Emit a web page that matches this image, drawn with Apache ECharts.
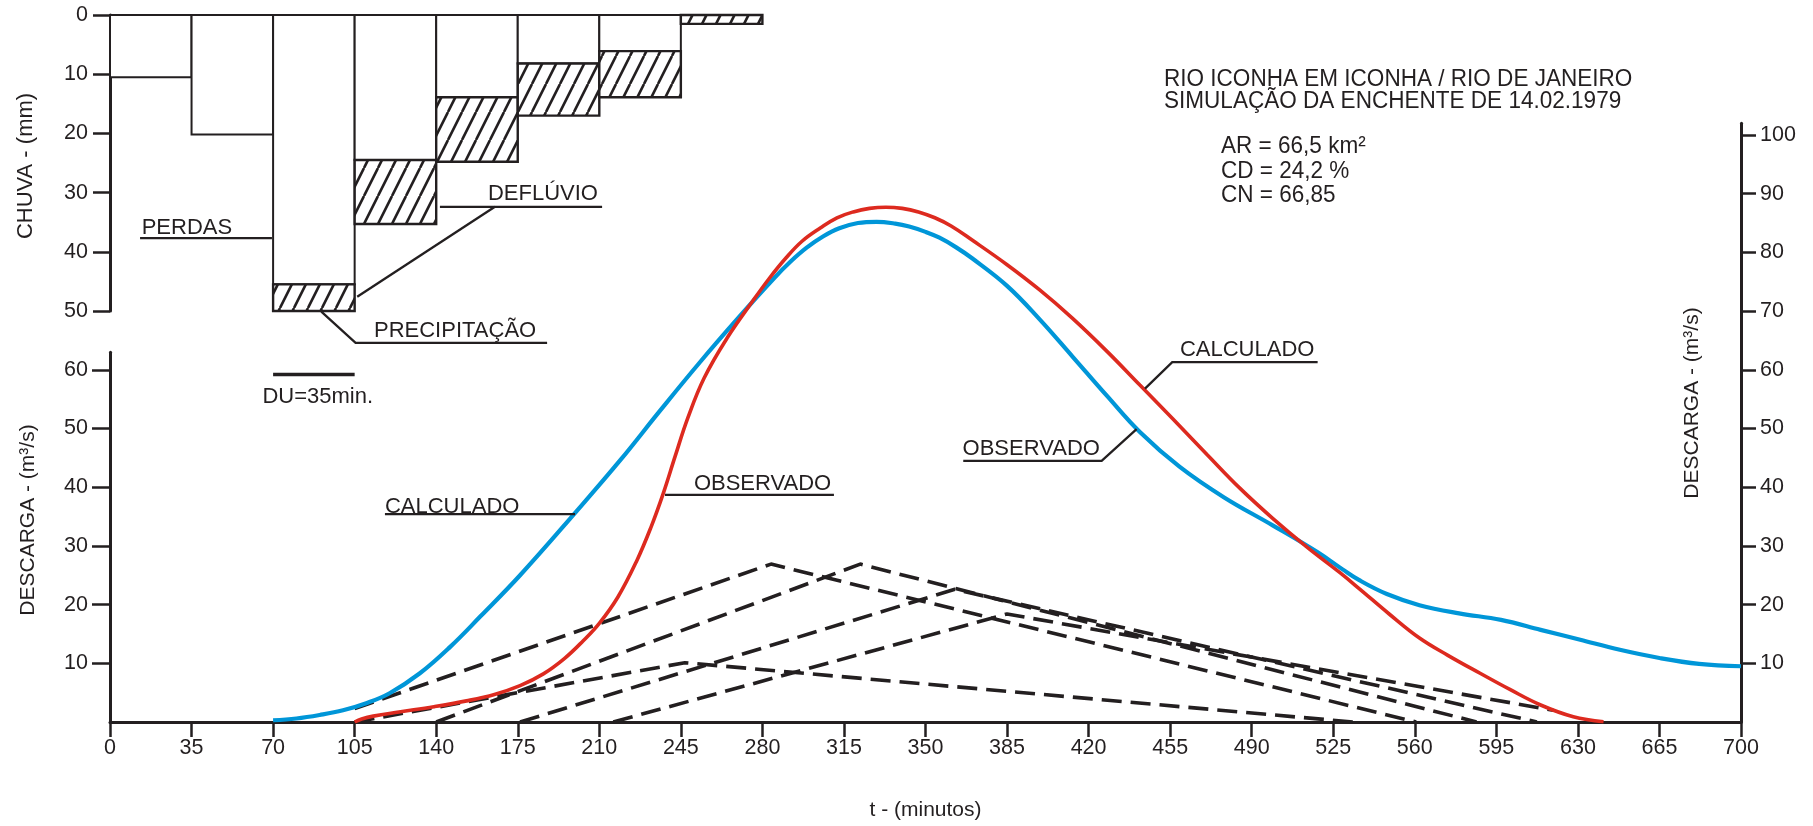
<!DOCTYPE html>
<html>
<head>
<meta charset="utf-8">
<script src="https://cdn.jsdelivr.net/npm/echarts@6/dist/echarts.min.js"></script>
<style>
html,body{margin:0;padding:0;background:#fff;}
#c{width:1813px;height:826px;}
</style>
</head>
<body>
<div id="c"></div>
<script>
// ---------------- DATA ----------------
const timeTicks = [0,35,70,105,140,175,210,245,280,315,350,385,420,455,490,525,560,595,630,665,700];
const rainTicks = [0,10,20,30,40,50];
const dischargeTicksLeft = [10,20,30,40,50,60];
const dischargeTicksRight = [10,20,30,40,50,60,70,80,90,100];

// Chuva (mm) per 35-min interval
const rainIntervalStart = [0,35,70,105,140,175,210,245];
const rainLosses  = [10.5,20.2,45.5,24.5,13.9,8.2,6.1,0];     // PERDAS
const rainTotals  = [10.5,20.2,50.0,35.3,24.8,17.0,13.9,1.5]; // PRECIPITAÇÃO

// Hidrograma azul (t em minutos, Q em m³/s)
const blueTimes = [70,80,90,100,110,120,133,146,159,176,200,219,236,253,270,285,292,299,306,313,321,329,337,343,350,356,363,370,385,399,413,428,442,459,478,499,518,529,536,548,562,579,597,614,631,648,665,682,700];
const blueFlows = [0.3,0.6,1.2,2.0,3.2,4.9,8.3,12.8,18.0,25.0,35.8,44.6,53.0,61.2,69.0,75.6,78.4,80.8,82.7,84.1,85.0,85.2,84.9,84.4,83.5,82.5,80.9,79.0,74.3,68.6,62.3,55.5,49.4,43.5,38.3,33.5,29.0,26.0,24.2,21.8,19.9,18.5,17.4,15.7,14.0,12.3,10.9,9.9,9.5];

// Hidrograma vermelho
const redTimes = [105,108,113,124,139,153,165,176,186,195,203,210,218,226,232,237.5,242.5,248,255,265,276,283,290,297,305,312,319,326,333,340,347,354,361,370,385,399,413,428,442,456,471,485,499,514,528,536.5,549,562,574,588,601,614,628,641];
const redFlows = [0,0.5,1.0,1.7,2.6,3.6,4.7,6.2,8.2,10.8,13.8,16.8,21.3,27.4,33.0,39.0,45.2,51.8,58.6,65.5,71.8,75.6,79.0,81.9,84.2,85.9,86.9,87.5,87.7,87.5,86.9,85.9,84.5,82.1,77.9,73.6,68.8,63.1,57.4,51.7,45.5,39.8,34.7,29.7,25.4,22.6,18.4,14.3,11.4,8.3,5.5,2.9,0.9,0.05];

// Hidrogramas unitários triangulares (t, Q)
const uhTimes1 = [105,246.7,533.5]; const uhFlows1 = [0,10.1,0];
const uhTimes2 = [105,283.7,560.6]; const uhFlows2 = [2.3,26.9,0];
const uhTimes3 = [140,322,586.5];   const uhFlows3 = [0,26.9,0];
const uhTimes4 = [176,362.6,612.4]; const uhFlows4 = [0,22.6,0];
const uhTimes5 = [216,385,619.4];   const uhFlows5 = [0,18.4,2.0];

// ---------------- STYLE ----------------
const ink = '#231f20';
const FONT = '"Liberation Sans", Arial, Helvetica, sans-serif';
const BLUE = '#0096d8';
const RED = '#dd2a1f';

function zip(a, b){ return a.map((v,i)=>[v, b[i]]); }

function makeHatch(){
  const c = document.createElement('canvas');
  c.width = 14; c.height = 28;
  const g = c.getContext('2d');
  g.fillStyle = '#fff'; g.fillRect(0,0,14,28);
  g.strokeStyle = ink; g.lineWidth = 2.6; g.lineCap = 'butt';
  g.beginPath();
  for (let k=-1;k<=1;k++){ g.moveTo(k*14, 28); g.lineTo(k*14+14, 0); }
  g.stroke();
  return c;
}
const hatch = {image: makeHatch(), repeat: 'repeat'};

const rainData = rainIntervalStart.map((s,i)=>[s, s+35, rainLosses[i], rainTotals[i]]);

const chart = echarts.init(document.getElementById('c'), null, {renderer:'canvas', width:1813, height:826});

const axisLineStyle = {show:true, onZero:false, lineStyle:{color:ink, width:3}};
const tickStyle = (len)=>({show:true, length:len, inside:false, lineStyle:{color:ink, width:2.5}});
const lbl = {color:ink, fontFamily:FONT, fontSize:21.5};

function uhSeries(t, q){
  return {type:'line', xAxisIndex:1, yAxisIndex:1, data: zip(t,q), showSymbol:false, symbol:'none',
    lineStyle:{color:ink, width:3.6, type:[20,9]}, z:3, silent:true};
}

const option = {
  animation:false,
  backgroundColor:'#ffffff',
  textStyle:{fontFamily:FONT, color:ink},
  grid:[
    {left:110, right:72, top:15, height:296},
    {left:110, right:72, top:123.26, bottom:104},
    {left:110, right:72, top:352.2, bottom:104}
  ],
  xAxis:[
    {gridIndex:0, type:'value', min:0, max:700, show:false},
    {gridIndex:1, type:'value', min:0, max:700, interval:35,
      axisLine:axisLineStyle, axisTick:tickStyle(15),
      axisLabel:{...lbl, margin:15, customValues: timeTicks},
      splitLine:{show:false},
      name:'t - (minutos)', nameLocation:'middle', nameGap:78,
      nameTextStyle:{color:ink, fontFamily:FONT, fontSize:21}},
    {gridIndex:2, type:'value', min:0, max:700, show:false}
  ],
  yAxis:[
    {gridIndex:0, type:'value', inverse:true, min:0, max:50, interval:10,
      axisLine:axisLineStyle, axisTick:tickStyle(17),
      axisLabel:{...lbl, margin:22, customValues: rainTicks}, splitLine:{show:false}},
    {gridIndex:1, type:'value', position:'right', min:0, max:102,
      axisLine:axisLineStyle, axisTick:{...tickStyle(15), customValues: dischargeTicksRight},
      axisLabel:{...lbl, margin:19, customValues: dischargeTicksRight}, splitLine:{show:false}},
    {gridIndex:2, type:'value', position:'left', min:0, max:63,
      axisLine:axisLineStyle, axisTick:{...tickStyle(18), customValues: dischargeTicksLeft},
      axisLabel:{...lbl, margin:22, customValues: dischargeTicksLeft}, splitLine:{show:false}}
  ],
  series:[
    {type:'custom', name:'Chuva', xAxisIndex:0, yAxisIndex:0, data:rainData,
      encode:{x:[0,1], y:[2,3]}, z:2, silent:true,
      renderItem:function(params, api){
        const t0 = api.value(0), t1 = api.value(1), loss = api.value(2), total = api.value(3);
        const a = api.coord([t0, 0]);
        const b = api.coord([t1, loss]);
        const c = api.coord([t1, total]);
        const children = [];
        if (loss > 0) children.push({type:'rect', shape:{x:a[0], y:a[1], width:b[0]-a[0], height:b[1]-a[1]},
          style:{fill:'#fff', stroke:ink, lineWidth:2}});
        if (total > loss) children.push({type:'rect', shape:{x:a[0], y:b[1], width:b[0]-a[0], height:c[1]-b[1]},
          style:{fill:hatch, stroke:ink, lineWidth:2.4}});
        return {type:'group', children:children};
      }},
    uhSeries(uhTimes1, uhFlows1),
    uhSeries(uhTimes2, uhFlows2),
    uhSeries(uhTimes3, uhFlows3),
    uhSeries(uhTimes4, uhFlows4),
    uhSeries(uhTimes5, uhFlows5),
    {type:'line', name:'Azul', xAxisIndex:1, yAxisIndex:1, data:zip(blueTimes, blueFlows), smooth:0.4,
      showSymbol:false, symbol:'none', lineStyle:{color:BLUE, width:4.2}, z:4, silent:true},
    {type:'line', name:'Vermelho', xAxisIndex:1, yAxisIndex:1, data:zip(redTimes, redFlows), smooth:0.4,
      showSymbol:false, symbol:'none', lineStyle:{color:RED, width:3.6}, z:5, silent:true}
  ]
};
chart.setOption(option);

// ---------------- ANNOTATIONS (in data coordinates) ----------------
const notes = [
  {ax:0, label:'PERDAS',       at:[13.6, 35.9],  lines:[[[12.9,37.7],[69.5,37.7]]]},
  {ax:0, label:'DEFLÚVIO',     at:[162.2, 30.3], lines:[[[141.6,32.4],[211.2,32.4]], [[165.2,32.4],[106.1,47.6]]]},
  {ax:0, label:'PRECIPITAÇÃO', at:[113.3, 53.4], lines:[[[90.7,50.1],[105.4,55.4],[187.6,55.4]]]},
  {ax:1, label:'DU=35min.',    at:[65.4, 55.4],  lines:[[[70,59.2],[105,59.2]]], w:3.6},
  {ax:1, label:'CALCULADO',    at:[118, 36.7],   lines:[[[118,35.4],[199.6,35.4]]]},
  {ax:1, label:'OBSERVADO',    at:[250.6, 40.5], lines:[[[238.2,38.7],[310.7,38.7]]]},
  {ax:1, label:'OBSERVADO',    at:[365.9, 46.5], lines:[[[366.2,44.5],[425.6,44.5],[440.6,49.9]]]},
  {ax:1, label:'CALCULADO',    at:[459.2, 63.3], lines:[[[444.2,56.8],[455.9,61.3],[518.3,61.3]]]}
];
function px(ax, p){ return chart.convertToPixel({xAxisIndex:ax, yAxisIndex:ax}, p); }

const graphics = [];
notes.forEach(n=>{
  n.lines.forEach(l=>{
    graphics.push({type:'polyline', silent:true, z:20,
      shape:{points:l.map(p=>px(n.ax,p))},
      style:{stroke:ink, lineWidth:n.w||2.3, fill:null}});
  });
  const a = px(n.ax, n.at);
  graphics.push({type:'text', silent:true, z:20, x:a[0], y:a[1],
    style:{text:n.label, fill:ink, fontSize:22, fontFamily:FONT,
      textAlign:'left', align:'left', textVerticalAlign:'middle', verticalAlign:'middle'}});
});

function txt(s, x, y, size, opts){
  return Object.assign({type:'text', silent:true, z:20, x:x, y:y,
    style:{text:s, fill:ink, fontSize:size, fontFamily:FONT,
      textAlign:'left', align:'left', textVerticalAlign:'middle', verticalAlign:'middle'}}, opts||{});
}
function vtxt(s, x, y, size){
  return {type:'text', silent:true, z:20, x:x, y:y, rotation:Math.PI/2,
    style:{text:s, fill:ink, fontSize:size, fontFamily:FONT,
      textAlign:'center', align:'center', textVerticalAlign:'middle', verticalAlign:'middle'}};
}
// Title block
graphics.push(txt('RIO ICONHA EM ICONHA / RIO DE JANEIRO', 1164, 79, 24.5, {scaleX:0.92}));
graphics.push(txt('SIMULAÇÃO DA ENCHENTE DE 14.02.1979', 1164, 101, 24.5, {scaleX:0.92}));
graphics.push(txt('AR = 66,5 km²', 1221, 146.5, 24.5, {scaleX:0.92}));
graphics.push(txt('CD = 24,2 %', 1221, 171, 24.5, {scaleX:0.92}));
graphics.push(txt('CN = 66,85', 1221, 195.5, 24.5, {scaleX:0.92}));
// Axis titles
graphics.push(vtxt('CHUVA - (mm)', 26, 166, 22));
graphics.push(vtxt('DESCARGA - (m³/s)', 28, 520, 21));
graphics.push(vtxt('DESCARGA - (m³/s)', 1692, 403, 21));

chart.setOption({graphic:{elements:graphics}});
</script>
</body>
</html>
